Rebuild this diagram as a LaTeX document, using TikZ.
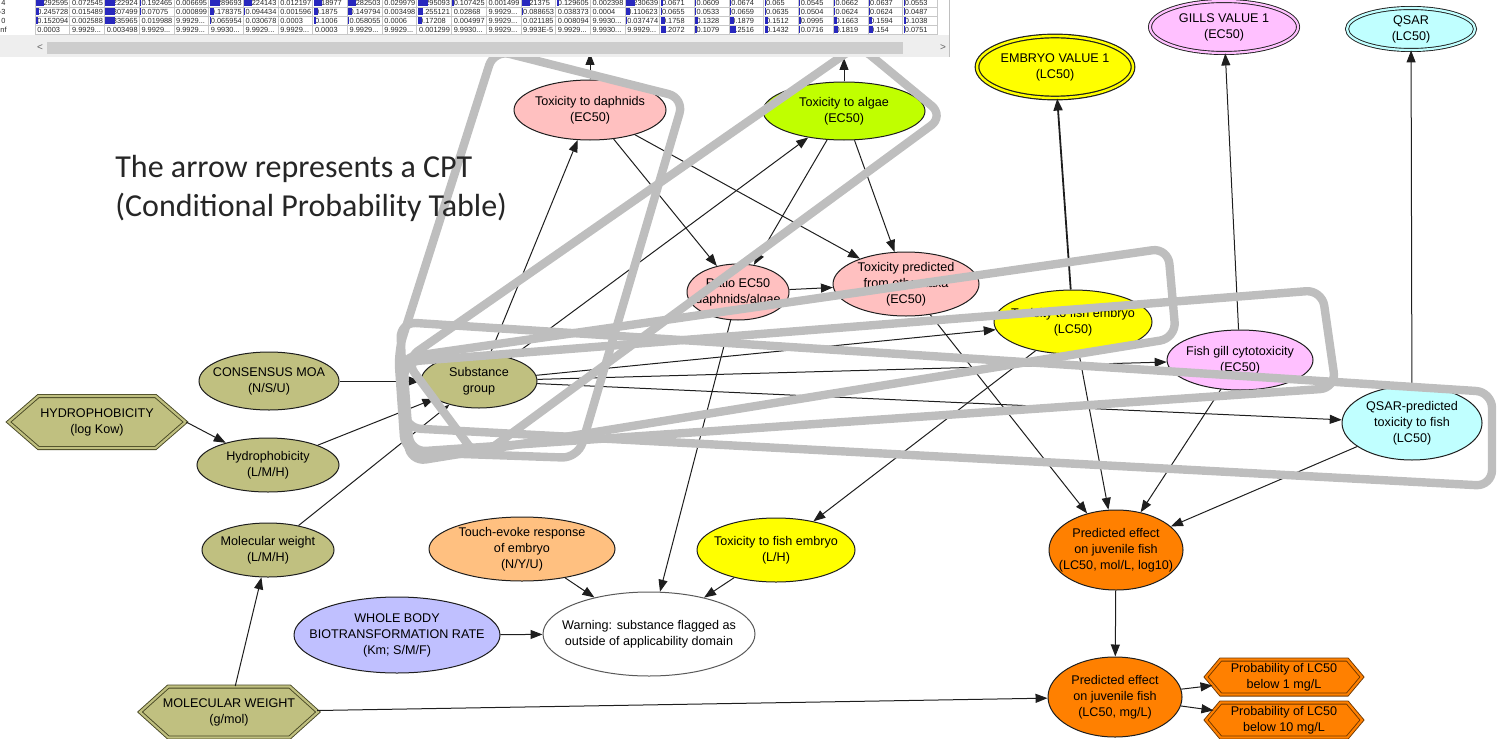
\documentclass[tikz,border=0pt]{standalone}
\usepackage{fontspec}
\setmainfont{Liberation Sans}
\newfontfamily\cptfont{Carlito}
\usetikzlibrary{shapes.geometric,shapes.symbols,arrows.meta}

\definecolor{olivec}{RGB}{192,192,128}
\definecolor{pinkc}{RGB}{255,192,192}
\definecolor{limec}{RGB}{192,255,0}
\definecolor{yellowc}{RGB}{255,255,0}
\definecolor{violetc}{RGB}{255,192,255}
\definecolor{cyanc}{RGB}{192,255,255}
\definecolor{peachc}{RGB}{255,192,128}
\definecolor{lavenderc}{RGB}{192,192,255}
\definecolor{orangec}{RGB}{255,128,0}
\definecolor{loopgrey}{RGB}{190,190,190}
\definecolor{edgec}{RGB}{30,30,30}
\definecolor{hexline}{RGB}{70,70,35}
\definecolor{probline}{RGB}{110,55,0}
\definecolor{barblue}{RGB}{40,40,190}
\definecolor{gridc}{RGB}{200,200,200}
\definecolor{panelc}{RGB}{238,238,238}
\definecolor{thumbc}{RGB}{205,205,205}
\definecolor{tabtext}{RGB}{40,40,40}
\definecolor{cpttext}{RGB}{38,38,38}

\newcommand\nodefont{\fontsize{6.3pt}{8pt}\selectfont}
\newcommand\tabfont{\fontsize{3.7pt}{4pt}\selectfont}
\newcommand\celldots{.{}.{}.}
% one row of the probability table: cell texts with bar widths, baseline, bar top
\newcommand\tabrow[3]{%
  \foreach \txt/\bw [count=\ci from 0] in {#1} {%
    \node[cell] at (37+\ci*34.7,#2) {\txt};
    \ifnum\bw>0 \fill[barblue] (36+\ci*34.7,#3) rectangle ++(\bw,7);\fi
  }}

\begin{document}
\begin{tikzpicture}[x=0.5pt,y=-0.5pt,
  nd/.style={ellipse, draw=edgec, line width=0.5pt, inner sep=-8pt, align=center, font=\nodefont},
  hexnode/.style={signal, signal to=east and west, draw=hexline, line width=0.45pt,
    double distance=1.1pt, inner sep=-8pt, align=center, font=\nodefont},
  arr/.style={draw=edgec, line width=0.5pt, -{Triangle[length=6pt,width=4.5pt]}},
  cptloop/.style={draw=loopgrey, line width=4.2pt, rounded corners=8pt, line join=round},
  cell/.style={font=\tabfont, inner sep=0pt, anchor=base west, text=tabtext},
  cpt/.style={anchor=base west, inner sep=0pt, font=\cptfont\fontsize{16pt}{19.5pt}\selectfont, text=cpttext},
]
\useasboundingbox (0,0) rectangle (1497,738);

% ---------- nodes ----------
\node[nd, fill=pinkc, minimum width=76pt, minimum height=30pt] (daph) at (590,110) {Toxicity to daphnids\\(EC50)};
\node[nd, fill=limec, minimum width=81pt, minimum height=29pt] (alg) at (844,111) {Toxicity to algae\\(EC50)};
\node[nd, fill=pinkc, minimum width=51pt, minimum height=28pt] (ratio) at (738,292) {Ratio EC50\\daphnids/algae};
\node[nd, fill=pinkc, minimum width=73pt, minimum height=32pt] (pred) at (906,284) {Toxicity predicted\\from other taxa\\(EC50)};
\node[nd, fill=yellowc, minimum width=79pt, minimum height=32pt] (emblc) at (1073,322) {Toxicity to fish embryo\\(LC50)};
\node[nd, fill=violetc, minimum width=73pt, minimum height=30pt] (gill) at (1240,360) {Fish gill cytotoxicity\\(EC50)};
\node[nd, fill=cyanc, minimum width=70pt, minimum height=37pt] (qsarp) at (1412,423) {QSAR-predicted\\toxicity to fish\\(LC50)};

\node[nd, fill=yellowc, double=yellowc, double distance=1.2pt, line width=0.6pt, minimum width=78pt, minimum height=31pt] (embval) at (1055,67) {EMBRYO VALUE 1\\(LC50)};
\node[nd, fill=violetc, double=violetc, double distance=1.1pt, line width=0.45pt, minimum width=74pt, minimum height=26pt] (gillval) at (1224,27) {GILLS VALUE 1\\(EC50)};
\node[nd, fill=cyanc, double=cyanc, double distance=1.1pt, line width=0.45pt, minimum width=64pt, minimum height=21pt] (qsarval) at (1411,29) {QSAR\\(LC50)};

\node[nd, fill=olivec, minimum width=58pt, minimum height=27pt] (sg) at (479,381) {Substance\\group};
\node[nd, fill=olivec, minimum width=70pt, minimum height=29pt] (cons) at (269,381) {CONSENSUS MOA\\(N/S/U)};
\node[nd, fill=olivec, minimum width=71pt, minimum height=27pt] (hydro) at (268,465) {Hydrophobicity\\(L/M/H)};
\node[nd, fill=olivec, minimum width=66pt, minimum height=27pt] (molw) at (268,550) {Molecular weight\\(L/M/H)};
\node[hexnode, fill=olivec, double=olivec, signal pointer angle=82, minimum width=88.5pt, minimum height=26pt] (hydhex) at (97,422) {HYDROPHOBICITY\\(log Kow)};
\node[hexnode, fill=olivec, double=olivec, signal pointer angle=84, minimum width=89pt, minimum height=25.5pt] (mwhex) at (229,712) {MOLECULAR WEIGHT\\(g/mol)};

\node[nd, fill=peachc, minimum width=93pt, minimum height=32pt] (touch) at (522,549) {Touch-evoke response\\of embryo\\(N/Y/U)};
\node[nd, fill=yellowc, minimum width=79pt, minimum height=32pt] (emblh) at (776,550) {Toxicity to fish embryo\\(L/H)};
\node[nd, fill=lavenderc, minimum width=103pt, minimum height=38pt] (whole) at (397,635) {WHOLE BODY\\BIOTRANSFORMATION RATE\\(Km; S/M/F)};
\node[nd, fill=white, draw=black!65, minimum width=106pt, minimum height=42pt] (warn) at (649,634) {Warning: substance flagged as\\outside of applicability domain};

\node[nd, fill=orangec, minimum width=67pt, minimum height=40pt] (moll) at (1116,550) {Predicted effect\\on juvenile fish\\(LC50, mol/L, log10)};
\node[nd, fill=orangec, minimum width=67pt, minimum height=40pt] (mgl) at (1115,697) {Predicted effect\\on juvenile fish\\(LC50, mg/L)};
\node[hexnode, draw=probline, fill=orangec, double=orangec, signal pointer angle=100, minimum width=78pt, minimum height=17.5pt] (prob1) at (1284,677) {Probability of LC50\\below 1 mg/L};
\node[hexnode, draw=probline, fill=orangec, double=orangec, signal pointer angle=100, minimum width=78pt, minimum height=17.5pt] (prob10) at (1284,720) {Probability of LC50\\below 10 mg/L};

\coordinate (daphup) at (590,53);
\coordinate (algup) at (844,58);

% ---------- connectors ----------
\draw[arr] (daph) -- (daphup);
\draw[arr] (alg) -- (algup);
\draw[arr] (sg) -- (daph);
\draw[arr] (sg) -- (alg);
\draw[arr] (sg) -- (emblc);
\draw[arr] (sg) -- (gill);
\draw[arr] (sg) -- (qsarp);
\draw[arr] (daph) -- (ratio);
\draw[arr] (daph) -- (pred);
\draw[arr] (alg) -- (ratio);
\draw[arr] (alg) -- (pred);
\draw[arr] (ratio) -- (pred);
\draw[arr] (ratio) -- (warn);
\draw[arr] (pred) -- (moll);
\draw[arr] (emblc) -- (moll);
\draw[arr] (emblc) -- (emblh);
\draw[arr, line width=0.9pt] (emblc) -- (embval);
\draw[arr] (gill) -- (moll);
\draw[arr] (gill) -- (gillval);
\draw[arr] (qsarp) -- (moll);
\draw[arr] (qsarp) -- (qsarval);
\draw[arr] (moll) -- (mgl);
\draw[arr] (mgl) -- (prob1);
\draw[arr] (mgl) -- (prob10);
\draw[arr] (mwhex) -- (molw);
\draw[arr] (mwhex) -- (mgl);
\draw[arr] (hydhex.east) -- (hydro);
\draw[arr] (hydro) -- (sg);
\draw[arr] (molw) -- (sg);
\draw[arr] (cons) -- (sg);
\draw[arr] (touch) -- (warn);
\draw[arr] (emblh) -- (warn);
\draw[arr] (whole) -- (warn);

% ---------- CPT outlines ----------
\draw[cptloop] (494,50) -- (684,98) -- (578,458) -- (405,452) -- (398,352) -- cycle;
\draw[cptloop] (405,360) -- (858,45) -- (944,116) -- (478,458) -- cycle;
\draw[cptloop] (400,358) -- (1168,248) -- (1176,338) -- (410,462) -- cycle;
\draw[cptloop] (403,362) -- (1322,290) -- (1336,388) -- (410,452) -- cycle;
\draw[cptloop] (400,322) -- (1492,392) -- (1492,486) -- (405,428) -- cycle;

% ---------- probability table panel ----------
\fill[white] (0,-2) rectangle (949,35);
\foreach \k in {0,...,26} \draw[gridc, line width=0.3pt] (35+\k*34.7,-2) -- (35+\k*34.7,35);
\foreach \yy in {7.5,16.5,25.5,34.5} \draw[gridc, line width=0.3pt] (35,\yy) -- (937,\yy);
\node[cell, anchor=base east] at (6,5.5) {4};
\node[cell, anchor=base east] at (6,14.5) {-3};
\node[cell, anchor=base east] at (6,23.5) {0};
\node[cell, anchor=base east] at (7,32.5) {inf};
\tabrow{0.292595/8, 0.072545/0, 0.222924/10, 0.192465/1, 0.006695/0, 0.289693/10, 0.224143/8, 0.012197/0, 0.18977/8, 0.282503/8, 0.029979/0, 0.295093/10, 0.107425/2, 0.001499/0, 0.21375/8, 0.129605/2, 0.002398/0, 0.230639/9, 0.0671/2, 0.0609/1, 0.0674/1, 0.065/1, 0.0545/1, 0.0662/1, 0.0637/1, 0.0553/1}{5.5}{-0.5}
\tabrow{0.245728/3, 0.015489/0, 0.307499/10, 0.07075/1, 0.000899/0, 0.178375/4, 0.094434/1, 0.001596/0, 0.1875/4, 0.149794/4, 0.003498/0, 0.255121/5, 0.02868/0, 9.9929\celldots/0, 0.088653/1, 0.038373/0, 0.0004/0, 0.110623/4, 0.0655/1, 0.0533/1, 0.0659/1, 0.0635/1, 0.0504/1, 0.0624/1, 0.0624/1, 0.0487/1}{14.5}{8.5}
\tabrow{0.152094/2, 0.002588/0, 0.335965/10, 0.019988/0, 9.9929\celldots/0, 0.065954/1, 0.030678/0, 0.0003/0, 0.1006/2, 0.058055/1, 0.0006/0, 0.17208/4, 0.004997/0, 9.9929\celldots/0, 0.021185/0, 0.008094/0, 9.9930\celldots/0, 0.037474/1, 0.1758/4, 0.1328/3, 0.1879/4, 0.1512/3, 0.0995/2, 0.1663/3, 0.1594/3, 0.1038/2}{23.5}{17.5}
\tabrow{0.0003/0, 9.9929\celldots/0, 0.003498/0, 9.9929\celldots/0, 9.9929\celldots/0, 9.9930\celldots/0, 9.9929\celldots/0, 9.9929\celldots/0, 0.0003/0, 9.9929\celldots/0, 9.9929\celldots/0, 0.001299/0, 9.9930\celldots/0, 9.9929\celldots/0, 9.993E-5/0, 9.9929\celldots/0, 9.9930\celldots/0, 9.9929\celldots/0, 0.2072/5, 0.1079/2, 0.2516/6, 0.1432/3, 0.0716/1, 0.1819/4, 0.154/4, 0.0751/1}{32.5}{26.5}
\fill[panelc] (0,35) rectangle (949,57);
\fill[thumbc] (47,42) rectangle (903,54);
\node[font=\fontsize{5pt}{5pt}\selectfont, text=black!60, inner sep=0] (scrl) at (40,48) {<};
\node[font=\fontsize{5pt}{5pt}\selectfont, text=black!60, inner sep=0] (scrr) at (943,48) {>};
\draw[black!25, line width=0.4pt] (949,-2) -- (949,57);

% ---------- note ----------
\node[cpt] (cpta) at (115,177) {The arrow represents a CPT};
\node[cpt] (cptb) at (115,216) {(Conditional Probability Table)};
\end{tikzpicture}
\end{document}
